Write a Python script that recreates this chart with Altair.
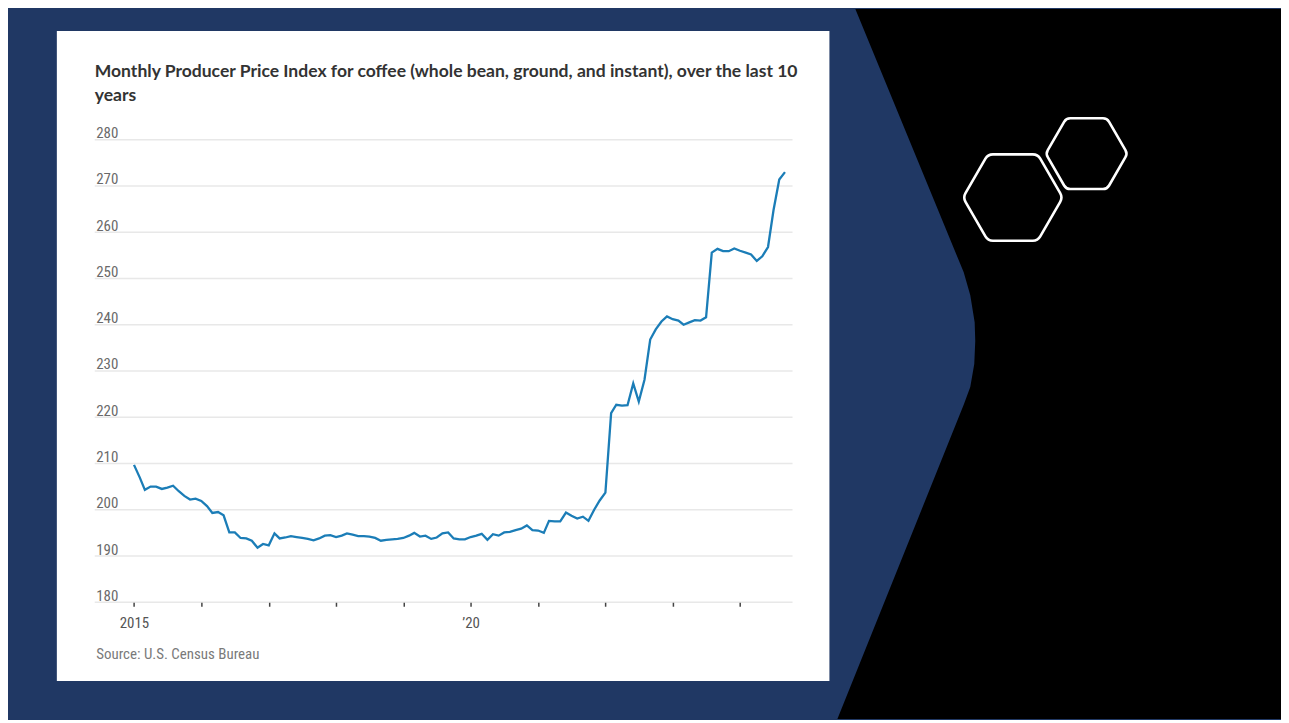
import altair as alt
import pandas as pd

# ---------------- data ----------------
months = pd.date_range("2015-01-01", periods=117, freq="MS").strftime("%Y-%m-%d").tolist()
ppi = [
    209.7, 207.0, 204.3, 205.0, 205.0, 204.5, 204.8, 205.2, 204.0, 203.0, 202.2, 202.4,
    201.9, 200.8, 199.3, 199.5, 198.8, 195.1, 195.1, 193.9, 193.8, 193.3, 191.8, 192.6,
    192.3, 194.9, 193.8, 194.0, 194.3, 194.1, 193.9, 193.7, 193.4, 193.8, 194.4, 194.5,
    194.1, 194.4, 194.9, 194.6, 194.3, 194.3, 194.2, 193.9, 193.3, 193.5, 193.6, 193.7,
    193.9, 194.4, 195.0, 194.2, 194.4, 193.7, 194.0, 194.9, 195.1, 193.8, 193.6, 193.6,
    194.1, 194.4, 194.8, 193.5, 194.7, 194.4, 195.1, 195.2, 195.6, 195.9, 196.6, 195.6,
    195.5, 195.0, 197.6, 197.5, 197.5, 199.4, 198.7, 198.1, 198.5, 197.6, 200.0, 202.0,
    203.7, 220.9, 222.7, 222.5, 222.6, 227.3, 223.4, 228.1, 236.8, 239.0, 240.7, 241.8,
    241.2, 240.9, 240.0, 240.5, 241.0, 240.9, 241.6, 255.6, 256.4, 255.9, 255.9, 256.5,
    256.0, 255.6, 255.2, 253.8, 254.8, 256.8, 264.8, 271.4, 273.0,
]
y_ticks = [180, 190, 200, 210, 220, 230, 240, 250, 260, 270, 280]
year_ticks = list(range(2015, 2025))
labelled_years = {2015: "2015", 2020: "\u201920"}

title_lines = [
    "Monthly Producer Price Index for coffee (whole bean, ground, and instant), over the last 10",
    "years",
]
source_text = "Source: U.S. Census Bureau"

# ---------------- layout / style ----------------
W, H = 700, 464            # plot area
OX, OY = 95, 139           # plot origin on the page
PAD = {"left": OX - 8, "top": OY - 8, "right": 1285 - (OX + W), "bottom": 720 - (OY + H)}
SLIDE_BLUE = "#203864"
LINE_BLUE = "#1b7db7"
NARROW = "Liberation Sans Narrow, Roboto Condensed, DejaVu Sans Condensed, sans-serif"

# decorative slide shapes (page pixel coordinates -> relative to plot origin)
chev_y = [8, 272, 295, 322, 341, 364, 387, 405, 720]
chev_x = [858, 966.7, 973.3, 977.7, 978.3, 977.3, 973.3, 966.7, 840]
black_df = pd.DataFrame({
    "by": [v - OY for v in chev_y],
    "bx": [v - OX for v in chev_x],
    "bx2": [1285 - OX] * len(chev_y),
})

def hex_path(r=0.1):
    import math
    pts = [(math.cos(math.radians(a)), math.sin(math.radians(a))) for a in (180, 240, 300, 0, 60, 120)]
    n = len(pts)
    segs = []
    for i in range(n):
        p = pts[i]
        a = pts[i - 1]
        b = pts[(i + 1) % n]
        s = (p[0] + (a[0] - p[0]) * r, p[1] + (a[1] - p[1]) * r)
        e = (p[0] + (b[0] - p[0]) * r, p[1] + (b[1] - p[1]) * r)
        cmd = "M" if i == 0 else "L"
        segs.append(f"{cmd}{s[0]:.4f},{s[1]:.4f} Q{p[0]:.4f},{p[1]:.4f} {e[0]:.4f},{e[1]:.4f}")
    return " ".join(segs) + " Z"

HEX = hex_path(0.1)

one = pd.DataFrame({"a": [0]})

black = alt.Chart(black_df).mark_area(orient="horizontal", color="black").encode(
    y=alt.Y("by:Q", scale=None),
    x=alt.X("bx:Q", scale=None),
    x2="bx2:Q",
)

panel = alt.Chart(one).mark_rect(color="white").encode(
    x=alt.value(57 - OX), x2=alt.value(832 - OX),
    y=alt.value(30 - OY), y2=alt.value(682 - OY),
)

hex_big = alt.Chart(one).mark_point(
    shape=HEX, size=100 * 100, filled=False, color="white", strokeWidth=2.6, opacity=1
).encode(x=alt.value(1016 - OX), y=alt.value(197 - OY))

hex_small = alt.Chart(one).mark_point(
    shape=HEX, size=82 * 82, filled=False, color="white", strokeWidth=2.6, opacity=1
).encode(x=alt.value(1090 - OX), y=alt.value(153 - OY))

yscale = alt.Scale(domain=[180, 280], nice=False, zero=False)
xscale = alt.Scale(
    type="utc",
    domain=[alt.DateTime(year=2014, month=6, date=2, utc=True),
            alt.DateTime(year=2024, month=10, date=12, utc=True)],
    nice=False,
)

grid = alt.Chart(pd.DataFrame({"v": y_ticks})).mark_rule(color="#e8e8e8", strokeWidth=1.5).encode(
    y=alt.Y("v:Q", scale=yscale, axis=None),
    x=alt.value(0), x2=alt.value(W),
)

label_expr = " : ".join(
    f"utcyear(datum.value) == {y} ? '{t}'" for y, t in labelled_years.items()
) + " : ''"

df = pd.DataFrame({"date": months, "ppi": ppi})
line = alt.Chart(df).mark_line(color=LINE_BLUE, strokeWidth=2.3).encode(
    x=alt.X(
        "date:T",
        scale=xscale,
        axis=alt.Axis(
            values=[alt.DateTime(year=y, month=1, date=1, utc=True) for y in year_ticks],
            labelExpr=label_expr,
            domain=False, grid=False,
            tickSize=4, tickColor="#444", tickWidth=1.5,
            labelPadding=9, labelFont=NARROW, labelFontSize=15, labelColor="#555",
            labelOverlap=False, labelFlush=False,
            title=source_text, titleAnchor="start", titleAlign="left", titleX=1, titleY=56,
            titleBaseline="alphabetic", titleFont=NARROW, titleFontSize=15,
            titleFontWeight="normal", titleColor="#7a7a7a",
            zindex=1,
        ),
    ),
    y=alt.Y(
        "ppi:Q",
        scale=yscale,
        axis=alt.Axis(
            values=y_ticks, grid=False, domain=False, ticks=False, tickSize=0,
            labelAlign="left", labelBaseline="alphabetic", labelPadding=-1, labelOffset=-2,
            labelFont=NARROW, labelFontSize=15, labelColor="#6a6a6a",
            labelOverlap=False, labelFlush=False, title=None, zindex=1,
        ),
    ),
)

chart = alt.layer(black, panel, grid, line, hex_big, hex_small).resolve_scale(
    x="independent", y="independent"
).properties(
    width=W, height=H,
    padding=PAD,
    autosize=alt.AutoSizeParams(type="none"),
    background=SLIDE_BLUE,
    title=alt.TitleParams(
        text=title_lines, anchor="start", frame="group", font="Lato", fontSize=17.6,
        fontWeight="bold", color="#333333", lineHeight=24, offset=0,
        baseline="alphabetic", dy=110,
    ),
).configure_view(stroke=None)

chart.save("out.html", embed_options={"renderer": "svg", "actions": False})
